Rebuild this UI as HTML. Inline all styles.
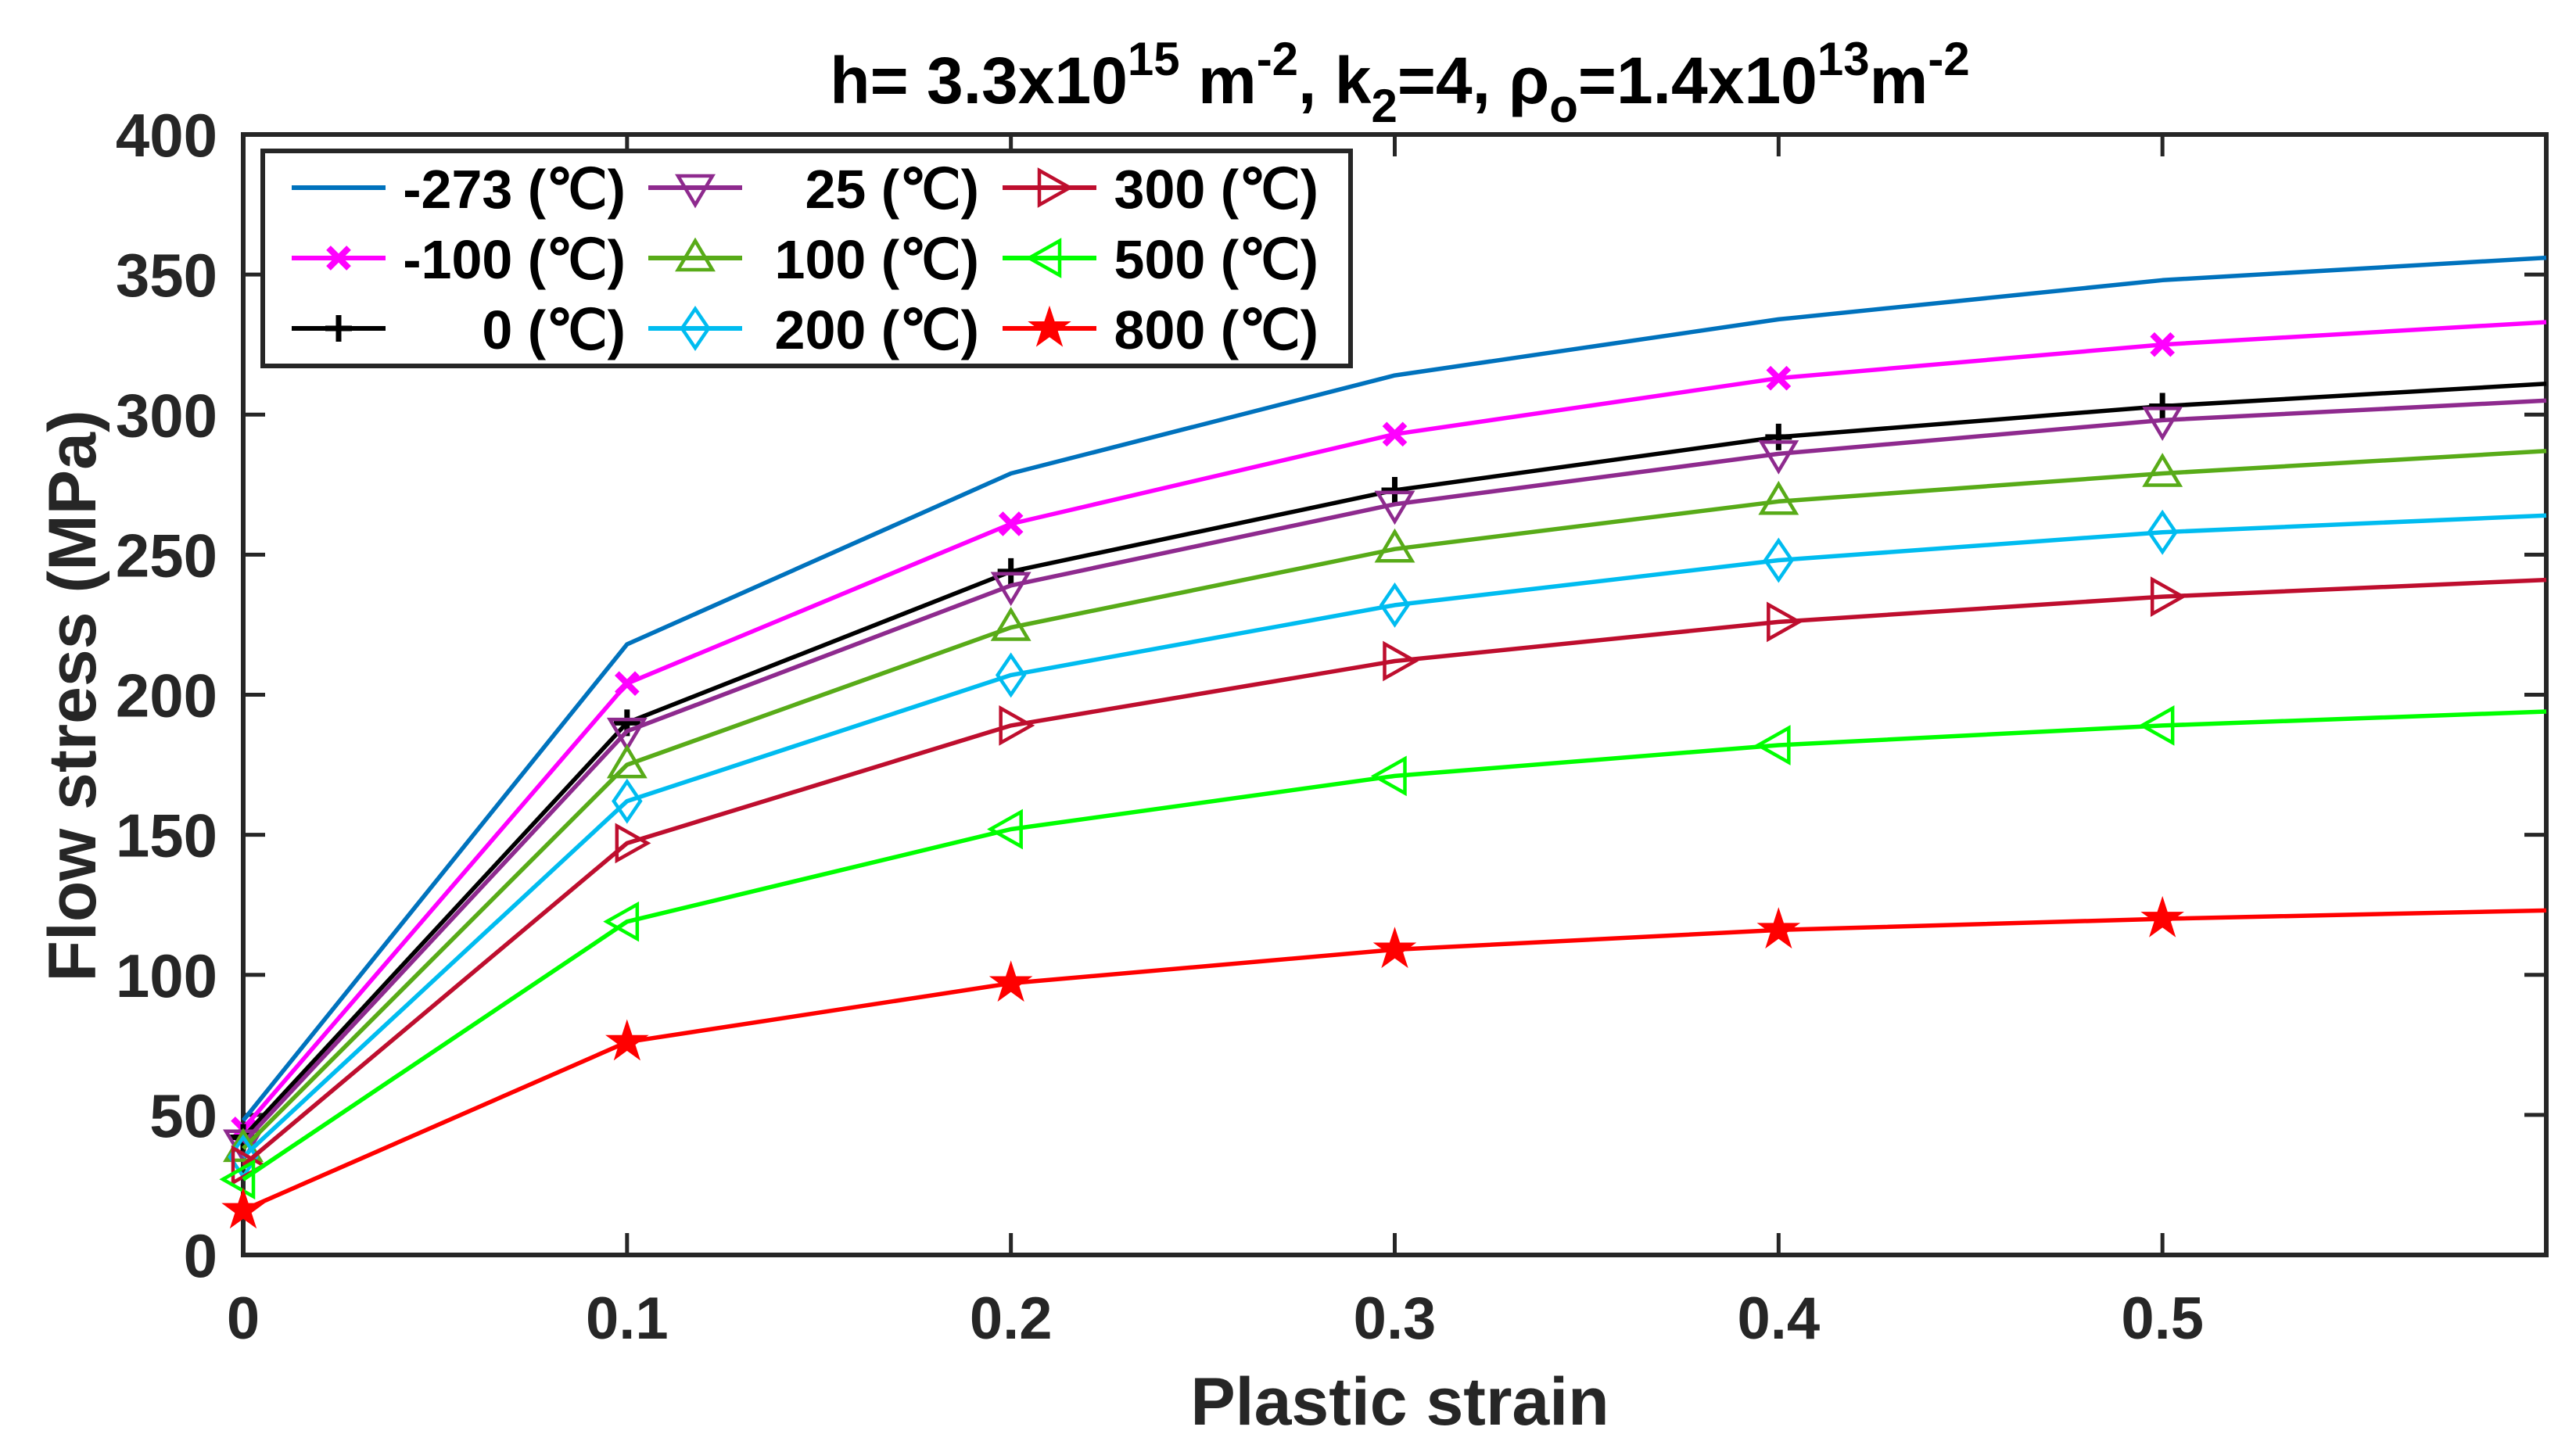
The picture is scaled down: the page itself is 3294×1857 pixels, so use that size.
<!DOCTYPE html>
<html><head><meta charset="utf-8"><style>
html,body{margin:0;padding:0;background:#fff;}
svg{display:block;font-family:"Liberation Sans",Arial,sans-serif;font-weight:bold;}
</style></head><body>
<svg id="chart" width="3294" height="1857" viewBox="0 0 3294 1857" xmlns="http://www.w3.org/2000/svg">
<rect width="3294" height="1857" fill="#fff"/>
<text x="1790" y="132" text-anchor="middle" font-size="84" fill="#000">h= 3.3x10<tspan dy="-36" font-size="60">15</tspan><tspan dy="36"> m</tspan><tspan dy="-36" font-size="60">-2</tspan><tspan dy="36">, k</tspan><tspan dy="24" font-size="60">2</tspan><tspan dy="-24">=4, ρ</tspan><tspan dy="24" font-size="60">o</tspan><tspan dy="-24">=1.4x10</tspan><tspan dy="-36" font-size="60">13</tspan><tspan dy="36">m</tspan><tspan dy="-36" font-size="60">-2</tspan></text>
<g id="axes"></g>
<g id="series"></g>
<g id="legend"></g>
<text x="1790" y="1822" text-anchor="middle" font-size="86" fill="#262626">Plastic strain</text>
<text transform="translate(122,890) rotate(-90)" text-anchor="middle" font-size="86" fill="#262626">Flow stress (MPa)</text>
</svg>
<script>
const strains = [0, 0.1, 0.2, 0.3, 0.4, 0.5, 0.6];
const labels = ["-273 (℃)", "-100 (℃)", "0 (℃)", "25 (℃)", "100 (℃)", "200 (℃)", "300 (℃)", "500 (℃)", "800 (℃)"];
const sM273 = [48, 218, 279, 314, 334, 348, 356];
const sM100 = [45, 204, 261, 293, 313, 325, 333];
const s0 = [42, 190, 244, 273, 292, 303, 311];
const s25 = [40, 187, 239, 268, 286, 298, 305];
const s100 = [38, 175, 224, 252, 269, 279, 287];
const s200 = [35, 162, 207, 232, 248, 258, 264];
const s300 = [32, 147, 189, 212, 226, 235, 241];
const s500 = [27, 119, 152, 171, 182, 189, 194];
const s800 = [16, 76, 97, 109, 116, 120, 123];
const xTicks = [0, 0.1, 0.2, 0.3, 0.4, 0.5];
const xTickLabels = ["0", "0.1", "0.2", "0.3", "0.4", "0.5"];
const yTicks = [0, 50, 100, 150, 200, 250, 300, 350, 400];

const NS = "http://www.w3.org/2000/svg";
const L = 311, R = 3256, T = 172, B = 1605;
const X = v => L + (v - 0) / 0.6 * (R - L);
const Y = v => B - v / 400 * (B - T);
function mk(tag, attrs, parent) {
  const e = document.createElementNS(NS, tag);
  for (const k in attrs) e.setAttribute(k, attrs[k]);
  parent.appendChild(e);
  return e;
}
const seriesDefs = [
  {d: sM273, c: "#0072BD", m: "none", n: "series-minus-273"},
  {d: sM100, c: "#FF00FF", m: "x", n: "series-minus-100"},
  {d: s0, c: "#000000", m: "+", n: "series-0"},
  {d: s25, c: "#8E2A8E", m: "v", n: "series-25"},
  {d: s100, c: "#58AB18", m: "^", n: "series-100"},
  {d: s200, c: "#00BCF0", m: "d", n: "series-200"},
  {d: s300, c: "#BE0E2E", m: ">", n: "series-300"},
  {d: s500, c: "#00FF00", m: "<", n: "series-500"},
  {d: s800, c: "#FF0000", m: "p", n: "series-800"}
];
function marker(g, type, cx, cy, c) {
  const sw = 4.5;
  let e = null;
  if (type === "x") e = mk("path", {d:`M${cx-13},${cy-13}L${cx+13},${cy+13}M${cx-13},${cy+13}L${cx+13},${cy-13}`, stroke:c, "stroke-width":8, fill:"none"}, g);
  else if (type === "+") e = mk("path", {d:`M${cx-17},${cy}L${cx+17},${cy}M${cx},${cy-17}L${cx},${cy+17}`, stroke:c, "stroke-width":7, fill:"none"}, g);
  else if (type === "v") e = mk("path", {d:`M${cx-22},${cy-15}L${cx+22},${cy-15}L${cx},${cy+22}Z`, stroke:c, "stroke-width":sw, fill:"none"}, g);
  else if (type === "^") e = mk("path", {d:`M${cx-22},${cy+15}L${cx+22},${cy+15}L${cx},${cy-22}Z`, stroke:c, "stroke-width":sw, fill:"none"}, g);
  else if (type === ">") e = mk("path", {d:`M${cx-13},${cy-22}L${cx-13},${cy+22}L${cx+26},${cy}Z`, stroke:c, "stroke-width":sw, fill:"none"}, g);
  else if (type === "<") e = mk("path", {d:`M${cx+13},${cy-22}L${cx+13},${cy+22}L${cx-26},${cy}Z`, stroke:c, "stroke-width":sw, fill:"none"}, g);
  else if (type === "d") e = mk("path", {d:`M${cx},${cy-25}L${cx+17},${cy}L${cx},${cy+25}L${cx-17},${cy}Z`, stroke:c, "stroke-width":sw, fill:"none"}, g);
  else if (type === "p") {
    let p = "";
    for (let i = 0; i < 10; i++) {
      const r = i % 2 ? 10 : 26, a = -Math.PI/2 + i*Math.PI/5;
      p += (i ? "L" : "M") + (cx + r*Math.cos(a)).toFixed(1) + "," + (cy + r*Math.sin(a)).toFixed(1);
    }
    e = mk("path", {d:p+"Z", fill:c, stroke:c, "stroke-width":2}, g);
  }
  return e;
}
const axes = document.getElementById("axes");
xTicks.forEach((t, i) => {
  const tb = mk("line", {x1:X(t), x2:X(t), y1:B, y2:B-28, stroke:"#262626", "stroke-width":5}, axes);
  
  
  const tt = mk("line", {x1:X(t), x2:X(t), y1:T, y2:T+28, stroke:"#262626", "stroke-width":5}, axes);
  
  
  const lb = mk("text", {x:X(t), y:1712, "text-anchor":"middle", "font-size":76, fill:"#262626"}, axes);
  lb.textContent = xTickLabels[i];
  
  
});
yTicks.forEach(t => {
  const a = mk("line", {x1:L, x2:L+28, y1:Y(t), y2:Y(t), stroke:"#262626", "stroke-width":5}, axes);
  
  
  const b = mk("line", {x1:R, x2:R-28, y1:Y(t), y2:Y(t), stroke:"#262626", "stroke-width":5}, axes);
  
  
  const lb = mk("text", {x:278, y:Y(t)+28, "text-anchor":"end", "font-size":78, fill:"#262626"}, axes);
  lb.textContent = String(t);
  
  
});
const box = mk("rect", {x:L, y:T, width:R-L, height:B-T, fill:"none", stroke:"#262626", "stroke-width":6}, axes);



const sg = document.getElementById("series");
seriesDefs.forEach(s => {
  const g = mk("g", {}, sg);
  
  
  const pts = s.d.map((v, i) => X(strains[i]).toFixed(1) + "," + Y(v).toFixed(1)).join(" ");
  const pl = mk("polyline", {points:pts, fill:"none", stroke:s.c, "stroke-width":5.5, "stroke-linejoin":"round"}, g);
  
  
  s.d.forEach((v, i) => {
    if (i >= 6) return;
    const m = marker(g, s.m, X(strains[i]), Y(v), s.c);
    if (m) {
      
      
    }
  });
});

const lg = document.getElementById("legend");
const lbox = mk("rect", {x:336, y:193, width:1391, height:275, fill:"#fff", stroke:"#262626", "stroke-width":6}, lg);


const colSample = [373, 829, 1282];
const colTextEnd = [800, 1252, 1686];
const rowY = [240, 330, 420];
seriesDefs.forEach((s, k) => {
  const col = Math.floor(k / 3), row = k % 3;
  const g = mk("g", {}, lg);
  
  
  const y = rowY[row], x0 = colSample[col];
  mk("line", {x1:x0, x2:x0+120, y1:y, y2:y, stroke:s.c, "stroke-width":6}, g);
  marker(g, s.m, x0+60, y, s.c);
  const t = mk("text", {x:colTextEnd[col], y:y+26, "text-anchor":"end", "font-size":70, fill:"#000"}, g);
  t.textContent = labels[k];
});
</script>
</body></html>
